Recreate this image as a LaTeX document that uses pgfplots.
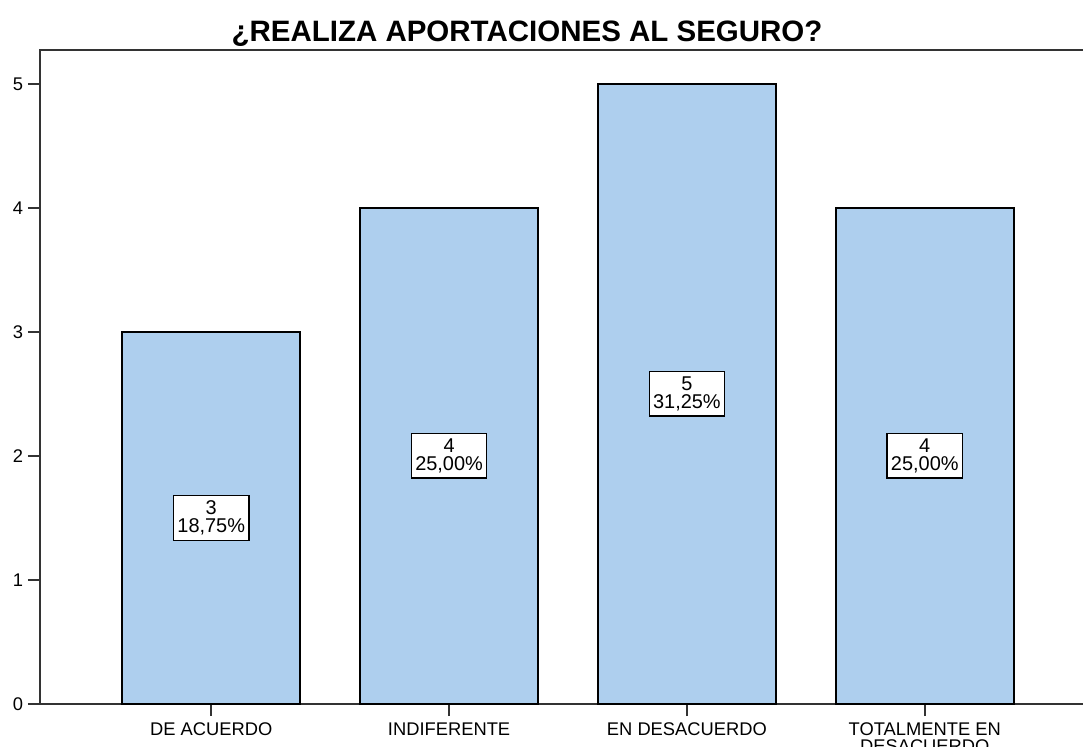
\documentclass[border=0pt]{standalone}
\usepackage{fontspec}
\setmainfont{Liberation Sans}
\usepackage{pgfplots}
\pgfplotsset{compat=1.18}
\definecolor{barblue}{HTML}{AECFEE}
\definecolor{edge}{HTML}{333333}

\begin{document}
\begin{tikzpicture}
  \useasboundingbox (0,0) rectangle (541.5bp,373.5bp);
  \clip (0,0) rectangle (541.5bp,373.5bp);
  \node[anchor=base,font=\fontsize{14.8}{16}\selectfont\bfseries]
    at (263.5bp,352.5bp) {¿REALIZA APORTACIONES AL SEGURO?};
  \begin{axis}[
    at={(20bp,21.5bp)}, anchor=south west,
    scale only axis, width=528bp, height=327bp,
    xmin=-0.72, xmax=3.72, ymin=0, ymax=5.274,
    xtick={0,1,2,3},
    xticklabels={DE ACUERDO,INDIFERENTE,EN DESACUERDO,{TOTALMENTE EN\\DESACUERDO}},
    ytick={0,1,2,3,4,5},
    tick pos=left, tick align=outside,
    major tick length=6bp,
    axis line style={edge,line width=0.8bp},
    tick style={edge,line width=0.8bp},
    ticklabel style={font=\fontsize{9.2}{8.5}\selectfont},
    xticklabel style={align=center},
    yticklabel style={xshift=1bp},
    /pgf/number format/assume math mode=true,
    clip=false,
  ]
    \addplot[ybar,bar width=89bp,fill=barblue,draw=black,line width=0.8bp]
      coordinates {(0,3) (1,4) (2,5) (3,4)};
    \addplot[draw=none,mark=none,nodes near coords,point meta=explicit symbolic,
      every node near coord/.style={anchor=center,fill=white,draw=black,
        line width=0.6bp,align=center,font=\fontsize{10}{9}\selectfont,
        inner xsep=2bp,inner ysep=2.5bp}]
      coordinates {(0,1.5) [{3\\18,75\%}] (1,2) [{4\\25,00\%}]
                   (2,2.5) [{5\\31,25\%}] (3,2) [{4\\25,00\%}]};
  \end{axis}
\end{tikzpicture}
\end{document}
